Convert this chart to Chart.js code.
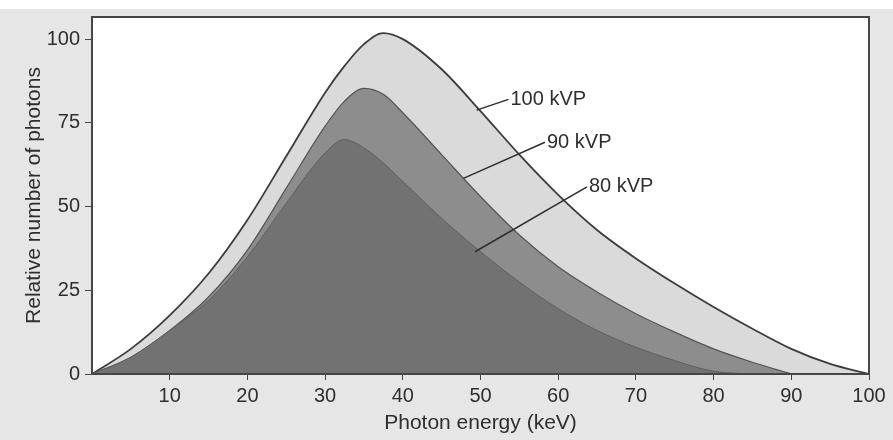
<!DOCTYPE html>
<html>
<head>
<meta charset="utf-8">
<title>X-ray spectrum</title>
<script src="https://cdn.jsdelivr.net/npm/chart.js@4.4.0/dist/chart.umd.min.js"></script>
<style>
  html, body { margin: 0; padding: 0; background: #e6e6e6; }
</style>
</head>
<body>
<canvas id="spectrum" width="893" height="440"></canvas>
<script>
// photon energy (keV) and relative photon counts
const energy = [0, 5, 10, 15, 20, 25, 30, 32.5, 35, 37.5, 40, 45, 50, 55, 60, 65, 70, 75, 80, 85, 90, 95, 100];
const kvp100 = [0, 7.5, 17.5, 30, 46, 65, 84, 92, 98.5, 101.8, 100, 91, 78.5, 65.5, 53.5, 43, 34.5, 27, 20, 13.5, 7.5, 3, 0];
const kvp90  = [0, 5, 13, 23, 37, 55.5, 74, 81.5, 85.3, 83.5, 78, 65.5, 53, 41.5, 32, 24.5, 18, 12.5, 7.5, 3.5, 0, null, null];
const kvp80  = [0, 5, 13, 22, 35, 51, 66, 70, 67.5, 63, 57.5, 46.5, 36.5, 27.5, 19.5, 13, 8, 4, 0.8, 0, null, null, null];

const xTicks = [10, 20, 30, 40, 50, 60, 70, 80, 90, 100];
const yTicks = [0, 25, 50, 75, 100];

// callout labels, leader lines given in data units (curve point -> text point)
const calloutText = ['100 kVP', '90 kVP', '80 kVP'];
const calloutFrom = [[49.5, 78.8], [47.8, 58.4], [49.3, 36.5]];
const calloutTo   = [[53.6, 82.0], [58.3, 69.2], [63.7, 55.9]];

const toPoints = (ys) => energy.map((x, i) => ({ x: x, y: ys[i] }));

Chart.defaults.font.family = "'Liberation Sans', Arial, sans-serif";
Chart.defaults.color = '#2e2e2e';

const framePlugin = {
  id: 'frame',
  beforeDraw(chart) {
    const { ctx, chartArea: a, width } = chart;
    ctx.save();
    ctx.fillStyle = '#ffffff';
    ctx.fillRect(0, 0, width, 9);
    ctx.fillRect(a.left, a.top, a.right - a.left, a.bottom - a.top);
    ctx.restore();
  },
  afterDatasetsDraw(chart) {
    const { ctx, chartArea: a, scales } = chart;
    const sx = scales.x, sy = scales.y;
    ctx.save();
    // frame around the plot
    ctx.strokeStyle = '#464646';
    ctx.lineWidth = 2;
    ctx.strokeRect(a.left, a.top, a.right - a.left, a.bottom - a.top);

    // callouts
    ctx.strokeStyle = '#2e2e2e';
    ctx.lineWidth = 1.5;
    ctx.fillStyle = '#2e2e2e';
    ctx.font = "20px 'Liberation Sans', Arial, sans-serif";
    ctx.textBaseline = 'middle';
    ctx.textAlign = 'left';
    calloutText.forEach((txt, i) => {
      const x0 = sx.getPixelForValue(calloutFrom[i][0]);
      const y0 = sy.getPixelForValue(calloutFrom[i][1]);
      const x1 = sx.getPixelForValue(calloutTo[i][0]);
      const y1 = sy.getPixelForValue(calloutTo[i][1]);
      ctx.beginPath();
      ctx.moveTo(x0, y0);
      ctx.lineTo(x1, y1);
      ctx.stroke();
      ctx.fillText(txt, x1 + 2, y1);
    });
    ctx.restore();
  }
};

new Chart(document.getElementById('spectrum'), {
  type: 'line',
  data: {
    datasets: [
      {
        label: '80 kVP',
        data: toPoints(kvp80),
        borderColor: '#5f5f5f',
        borderWidth: 1,
        backgroundColor: '#727272',
        fill: 'origin'
      },
      {
        label: '90 kVP',
        data: toPoints(kvp90),
        borderColor: '#555555',
        borderWidth: 1.2,
        backgroundColor: '#8d8d8d',
        fill: 'origin'
      },
      {
        label: '100 kVP',
        data: toPoints(kvp100),
        borderColor: '#3c3c3c',
        borderWidth: 1.8,
        backgroundColor: '#dadada',
        fill: 'origin'
      }
    ]
  },
  options: {
    responsive: false,
    animation: false,
    devicePixelRatio: 1,
    layout: { padding: { top: 17, right: 24, left: 0, bottom: 0 } },
    elements: {
      point: { radius: 0 },
      line: { cubicInterpolationMode: 'monotone' }
    },
    plugins: {
      legend: { display: false },
      tooltip: { enabled: false }
    },
    scales: {
      x: {
        type: 'linear',
        min: 0,
        max: 100,
        afterBuildTicks: (scale) => { scale.ticks = xTicks.map(v => ({ value: v })); },
        afterFit: (scale) => { scale.height = 66; },
        border: { display: false },
        grid: { drawOnChartArea: false, drawTicks: true, tickLength: 6, color: '#464646' },
        ticks: { font: { size: 20 }, padding: 4, maxRotation: 0, autoSkip: false },
        title: {
          display: true,
          text: 'Photon energy (keV)',
          font: { size: 21 },
          padding: { top: 0, bottom: 4 }
        }
      },
      y: {
        min: 0,
        max: 106.6,
        afterBuildTicks: (scale) => { scale.ticks = yTicks.map(v => ({ value: v })); },
        afterFit: (scale) => { scale.width = 92; },
        border: { display: false },
        grid: { drawOnChartArea: false, drawTicks: true, tickLength: 7, color: '#464646' },
        ticks: { font: { size: 20 }, padding: 5, autoSkip: false },
        title: {
          display: true,
          text: 'Relative number of photons',
          font: { size: 21 },
          padding: { top: 22, bottom: 0 }
        }
      }
    }
  },
  plugins: [framePlugin]
});
</script>
</body>
</html>
